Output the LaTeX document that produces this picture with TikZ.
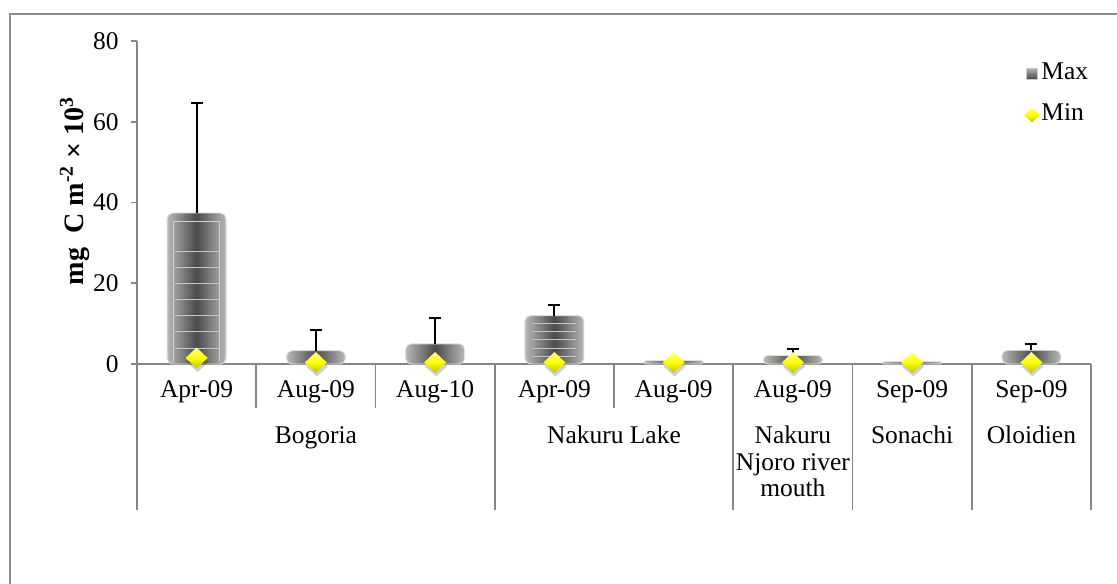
\documentclass[tikz,border=0pt]{standalone}
\usepackage{fontspec}
\setmainfont{Liberation Serif}
\begin{document}
\begin{tikzpicture}[x=0.02cm,y=-0.02cm,
  axisline/.style={draw=axisgray, line width=1pt},
  ticklab/.style={font=\fontsize{14.5}{16}\selectfont, inner sep=0pt},
  catlab/.style={font=\fontsize{14.5}{16}\selectfont, inner sep=0pt},
  errline/.style={draw=black, line width=1.1pt},
]
\definecolor{axisgray}{HTML}{868686}
\definecolor{framegray}{HTML}{8C8C8C}
\definecolor{bardark}{HTML}{4A4A4A}
\definecolor{barlight}{HTML}{B8B8B8}
\definecolor{diayel}{HTML}{FFFF00}
\useasboundingbox (0,0) rectangle (1117,583);
% outer frame
\draw[framegray, line width=1pt] (10,600) -- (10,14) -- (1140,14);
% y axis
\draw[axisline] (137,41) -- (137,510);
\foreach \v/\yy in {0/364,20/283.25,40/202.5,60/121.75,80/41}{
  \draw[axisline] (131,\yy) -- (137,\yy);
  \node[ticklab, anchor=east] (t\v) at (119,\yy) {\v};
}
\draw[axisline] (137,364) -- (1091,364);
% category separators
\foreach \xx in {256.25,375.5,614}{ \draw[axisline] (\xx,364) -- (\xx,408); }
\foreach \xx in {494.75,733.25,852.5,971.75,1091}{ \draw[axisline] (\xx,364) -- (\xx,510); }
% y label
\node[rotate=90, font=\bfseries\fontsize{16}{18}\selectfont, inner sep=0pt] (ylab) at (75,191)
  {mg\ \ C m\textsuperscript{-2} × 10\textsuperscript{3}};
% bars
\begin{scope}[shift={(0,364)}, y=0.08075cm]
\foreach \cx/\v/\e/\n in {196.6/37.4/64.6/1, 315.9/3.3/8.5/2, 435.1/5.0/11.4/3, 554.4/12.0/14.7/4,
   673.6/0.9/0/5, 792.9/2.1/3.7/6, 912.1/0.6/0/7, 1031.4/3.4/5.0/8}{
  \pgfmathsetmacro{\rr}{min(3.2,\v*1.1)}
  \shade[left color=barlight, right color=barlight, middle color=bardark, rounded corners=\rr pt]
     (\cx-29.5,0) rectangle (\cx+29.5,\v);
  \draw[white!75!gray, line width=0.5pt, rounded corners=\rr pt] (\cx-29.5,0) rectangle (\cx+29.5,\v);
  \ifnum\n=1
    \foreach \h in {4,8,...,28}{ \draw[gray!45, line width=0.4pt] (\cx-22,\h) -- (\cx+22,\h); }
    \draw[gray!35, line width=0.6pt] (\cx-23,0.5) -- (\cx-23,35.3) -- (\cx+23,35.3) -- (\cx+23,0.5);
  \fi
  \ifnum\n=4
    \foreach \h in {2,4,...,10}{ \draw[gray!45, line width=0.4pt] (\cx-22,\h) -- (\cx+22,\h); }
  \fi
  \ifdim\e pt>0pt
    \draw[errline] (\cx,\v) -- (\cx,\e);
    \draw[errline] (\cx-6,\e) -- (\cx+6,\e);
  \fi
}
\end{scope}
% min diamonds
\foreach \cx/\cy in {196.6/358, 315.9/362.5, 435.1/362.5, 554.4/362.5, 673.6/362.5, 792.9/362.5, 912.1/362.5, 1031.4/362.5}{
  \fill[black, opacity=0.18] (\cx+1,\cy-6) -- (\cx+12,\cy+4) -- (\cx+1,\cy+14) -- (\cx-10,\cy+4) -- cycle;
  \shade[top color=yellow!45!white, bottom color=yellow!75!black, middle color=diayel]
    (\cx,\cy-10.5) -- (\cx+11,\cy) -- (\cx,\cy+10.5) -- (\cx-11,\cy) -- cycle;
}
% category labels level 1
\foreach \cx/\lab/\k in {196.6/Apr-09/a, 315.9/Aug-09/b, 435.1/Aug-10/c, 554.4/Apr-09/d, 673.6/Aug-09/e, 792.9/Aug-09/f, 912.1/Sep-09/g, 1031.4/Sep-09/h}{
  \node[catlab] (c\k) at (\cx,392) {\strut\lab};
}
% level 2
\node[catlab] (gBog) at (315.9,438) {\strut Bogoria};
\node[catlab] (gNak) at (614,438) {\strut Nakuru Lake};
\node[catlab] (gNjA) at (792.9,438) {\strut Nakuru};
\node[catlab] (gNjB) at (792.9,464.5) {\strut Njoro river};
\node[catlab] (gNjC) at (792.9,491) {\strut mouth};
\node[catlab] (gSon) at (912.1,438) {\strut Sonachi};
\node[catlab] (gOlo) at (1031.4,438) {\strut Oloidien};
% legend
\shade[top color=gray!60, bottom color=bardark] (1026,68) rectangle (1037,79);
\draw[gray!40, line width=0.3pt] (1026,68) rectangle (1037,79);
\node[catlab, anchor=west] (lmax) at (1041,74) {\strut Max};
\shade[top color=yellow!45!white, bottom color=yellow!75!black, middle color=diayel]
  (1032,107.5) -- (1040,115) -- (1032,122.5) -- (1024,115) -- cycle;
\node[catlab, anchor=west] (lmin) at (1041,115) {\strut Min};
\end{tikzpicture}
\end{document}
